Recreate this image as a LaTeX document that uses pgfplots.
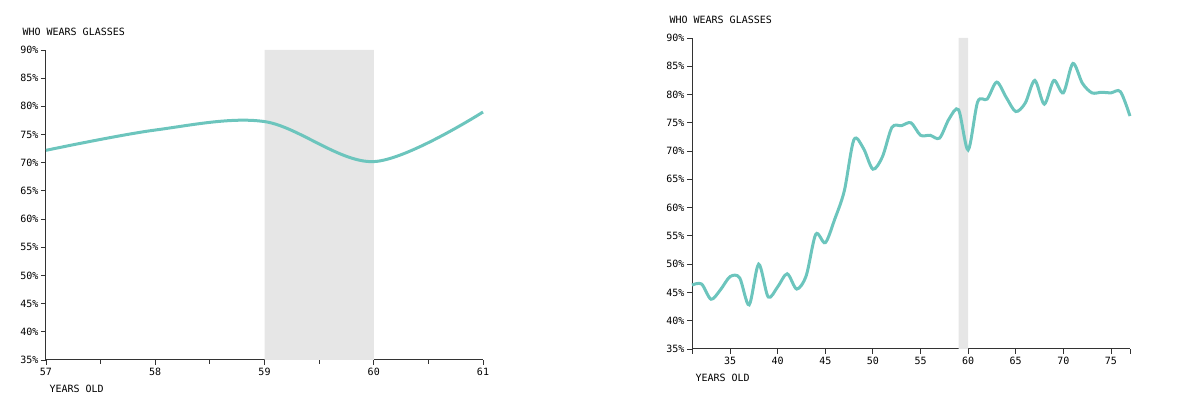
\documentclass[border=0pt]{standalone}
\usepackage{pgfplots}
\pgfplotsset{compat=1.18}
\usepackage{fontspec}
\setmainfont{DejaVu Sans Mono}
\definecolor{teal1}{HTML}{6CC5BD}
\definecolor{band}{HTML}{E6E6E6}
\pgfplotsset{
  common/.style={
    scale only axis, axis lines*=left, axis line style={black!80, line width=1pt},
    tick style={black!80, line width=0.9pt}, tick align=outside,
    major tick length=5pt, minor tick length=4pt,
    ymin=35, ymax=90, ytick={35,40,...,90},
    yticklabel={\pgfmathprintnumber{\tick}\%},
    ticklabel style={font=\fontsize{10}{12}\selectfont},
    /pgf/number format/assume math mode=true,
    yticklabel style={xshift=1pt},
    clip=false,
  }
}
\begin{document}
\begin{tikzpicture}[x=1pt,y=1pt]
\useasboundingbox (0,0) rectangle (1179,403);
\begin{axis}[common, at={(46pt,43pt)}, width=437pt, height=310pt,
  xmin=57, xmax=61, xtick={57,58,59,60,61}, minor xtick={57.5,58.5,59.5,60.5}]
\addplot[fill=band, draw=none] coordinates {(59,35)(60,35)(60,90)(59,90)} \closedcycle;
\addplot[teal1, line width=3pt, smooth, tension=0.55] coordinates {
(57,72.2)(58,75.8)(59,77.3)(60,70.2)(61,79)};
\end{axis}
\node[anchor=base west, font=\fontsize{10}{12}\selectfont] at (19,367) {WHO WEARS GLASSES};
\node[anchor=base west, font=\fontsize{10}{12}\selectfont] at (46,10) {YEARS OLD};
\begin{axis}[common, at={(692pt,54pt)}, width=438pt, height=311pt,
  xmin=31, xmax=77, xtick={35,40,...,75}, extra x ticks={31,77}, extra x tick labels={}]
\addplot[fill=band, draw=none] coordinates {(59,35)(60,35)(60,90)(59,90)} \closedcycle;
\addplot[teal1, line width=3pt, smooth, tension=0.5] coordinates {
(31,46.3)(32,46.5)(33,43.8)(34,45.5)(35,47.8)(36,47.6)(37,42.8)(38,50)(39,44.2)(40,46)
(41,48.3)(42,45.6)(43,48)(44,55.3)(45,53.8)(46,58)(47,63)(48,72)(49,70.5)(50,66.8)
(51,69)(52,74.2)(53,74.5)(54,75)(55,72.8)(56,72.8)(57,72.3)(58,75.7)(59,77.3)(60,70.2)
(61,78.7)(62,79.2)(63,82.2)(64,79.5)(65,77)(66,78.5)(67,82.5)(68,78.3)(69,82.5)(70,80.3)
(71,85.5)(72,82)(73,80.3)(74,80.4)(75,80.3)(76,80.5)(77,76.2)};
\end{axis}
\node[anchor=base west, font=\fontsize{10}{12}\selectfont] at (666,379) {WHO WEARS GLASSES};
\node[anchor=base west, font=\fontsize{10}{12}\selectfont] at (692,21) {YEARS OLD};
\end{tikzpicture}
\end{document}
